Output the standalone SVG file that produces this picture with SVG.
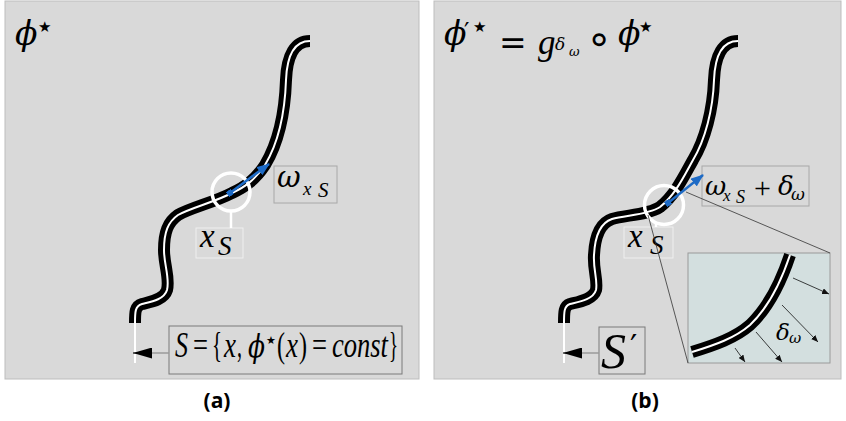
<svg xmlns="http://www.w3.org/2000/svg" width="846" height="421" viewBox="0 0 846 421">
<style>
.bg{fill:#d9d9d9;stroke:#bdbdbd;stroke-width:1}
.cb{fill:none;stroke:#000;stroke-width:12;stroke-linecap:butt;stroke-linejoin:round}
.cw{fill:none;stroke:#fff;stroke-width:2;stroke-linecap:butt}
.ring{fill:none;stroke:#fff;stroke-width:3.5}
.wl{stroke:#fff;stroke-width:2.5}
.box{fill:#d9d9d9;stroke:#a8a8a8;stroke-width:1}
.boxw{fill:#d9d9d9;stroke:#efefef;stroke-width:1}
.boxd{fill:#d9d9d9;stroke:#7a7a7a;stroke-width:1}
.blue{stroke:#1e6bc6;stroke-width:2.5;fill:none}
.gl{stroke:#9a9a9a;stroke-width:1.5}
.thin{stroke:#333;stroke-width:0.8}
.ia{stroke:#111;stroke-width:0.8}
.i{font-family:"Liberation Serif",serif;font-style:italic;fill:#000}
.u{font-family:"Liberation Serif",serif;font-style:normal;fill:#000}
.g{font-family:"DejaVu Serif",serif;font-style:italic;fill:#000}
.s{font-family:"DejaVu Sans",sans-serif;font-style:normal;fill:#000}
.p{font-family:"DejaVu Serif",serif;font-style:normal;fill:#000}
.cap{font-family:"Open Sans",sans-serif;font-weight:bold;font-size:21px;fill:#000}
</style>
<defs>
<marker id="bh" markerUnits="userSpaceOnUse" markerWidth="13" markerHeight="10" refX="12" refY="5" orient="auto"><path d="M0,0 L13,5 L0,10 z" fill="#1e6bc6"/></marker>
<marker id="bs" markerUnits="userSpaceOnUse" markerWidth="6" markerHeight="6" refX="3" refY="3" orient="auto"><rect x="0" y="0" width="6" height="6" fill="#1e6bc6"/></marker>
<marker id="sh" markerUnits="userSpaceOnUse" markerWidth="7" markerHeight="6" refX="7" refY="3" orient="auto"><path d="M0,0 L7,3 L0,6 z" fill="#111"/></marker>
<marker id="kh" markerUnits="userSpaceOnUse" markerWidth="19" markerHeight="11" refX="19" refY="5.5" orient="auto"><path d="M0,0 L19,5.5 L0,11 z" fill="#000"/></marker>
</defs>

<g id="panel-a">
<rect class="bg" x="5" y="1" width="414" height="378"/>
<text class="g" x="15" y="45" font-size="33">ϕ</text>
<text class="s" x="38" y="32" font-size="15">★</text>
</g>

<g id="panel-b">
<rect class="bg" x="434" y="1" width="407" height="378"/>
<text class="g" x="444" y="45" font-size="33">ϕ</text>
<text class="p" x="464" y="40" font-size="24">′</text>
<text class="s" x="473" y="32" font-size="15">★</text>
<text class="s" x="499" y="54" font-size="33">=</text>
<text class="i" x="538" y="54" font-size="35">g</text>
<text class="g" x="555" y="50" font-size="17">δ</text>
<text class="g" x="569" y="56" font-size="13">ω</text>
<text class="s" x="586" y="53" font-size="42">∘</text>
<text class="g" x="618" y="45" font-size="33">ϕ</text>
<text class="s" x="639" y="32" font-size="15">★</text>
</g>

<g id="curve-a">
<path class="cb" d="M310 41 C295 41 287 55 286 80 C285 110 280 140 265 165 C255 180 245 187 232 193 C215 202 190 208 178 215 C168 222 164 232 164 250 C164 265 170 278 167 290 C164 300 150 302 142 304 C135 306 135 312 135 323"/>
<path class="cw" d="M310 41 C295 41 287 55 286 80 C285 110 280 140 265 165 C255 180 245 187 232 193 C215 202 190 208 178 215 C168 222 164 232 164 250 C164 265 170 278 167 290 C164 300 150 302 142 304 C135 306 135 312 135 323 L135 363"/>
</g>

<g id="curve-b">
<path class="cb" d="M738 41 C723 41 715 55 714 80 C713 110 705 140 693 160 C683 178 675 195 660 207 C648 215 625 215 612 219 C600 223 595 235 594 255 C593 270 598 280 596 290 C593 300 578 302 570 304 C564 306 564 312 564 323"/>
<path class="cw" d="M738 41 C723 41 715 55 714 80 C713 110 705 140 693 160 C683 178 675 195 660 207 C648 215 625 215 612 219 C600 223 595 235 594 255 C593 270 598 280 596 290 C593 300 578 302 570 304 C564 306 564 312 564 323 L564 363"/>
</g>

<g id="point-a">
<circle class="ring" cx="231" cy="192" r="19"/>
</g>
<g id="point-b">
<circle class="ring" cx="664" cy="205" r="19.5"/>
</g>

<g id="inset">
<rect x="688" y="253" width="142" height="110" fill="#d3dfdf" stroke="#9a9a9a" stroke-width="1"/>
<path class="cb" d="M692 352 C715 345 735 338 750 325 C768 308 780 285 790 255"/>
<path class="cw" d="M692 352 C715 345 735 338 750 325 C768 308 780 285 790 255"/>
<text class="g" x="776" y="340" font-size="23">δ</text>
<text class="g" x="789" y="343" font-size="15">ω</text>
</g>

<g id="label-omega-a">
<rect class="box" x="274" y="166" width="63" height="37"/>
<text class="g" x="277" y="187" font-size="29">ω</text>
<text class="i" x="303" y="195" font-size="19">x</text>
<text class="i" x="318" y="197" font-size="21">S</text>
</g>

<g id="label-xs-a">
<rect class="boxw" x="196" y="228" width="47" height="30"/>
<text class="i" x="200" y="247" font-size="33">x</text>
<text class="i" x="218" y="255" font-size="27">S</text>
</g>

<g id="label-S-a">
<rect class="boxd" x="169" y="326" width="233" height="48"/>
<text class="i" x="175" y="357" font-size="35" textLength="13" lengthAdjust="spacingAndGlyphs">S</text>
<text class="u" x="193" y="357" font-size="35" textLength="15" lengthAdjust="spacingAndGlyphs">=</text>
<text class="u" x="212" y="357" font-size="35" textLength="10" lengthAdjust="spacingAndGlyphs">{</text>
<text class="i" x="224" y="357" font-size="35" textLength="12" lengthAdjust="spacingAndGlyphs">x</text>
<text class="u" x="237" y="357" font-size="35" textLength="5" lengthAdjust="spacingAndGlyphs">,</text>
<text class="g" x="248" y="357" font-size="32" textLength="17" lengthAdjust="spacingAndGlyphs">ϕ</text>
<text class="s" x="266" y="344" font-size="11">★</text>
<text class="u" x="277" y="357" font-size="35" textLength="8" lengthAdjust="spacingAndGlyphs">(</text>
<text class="i" x="286" y="357" font-size="35" textLength="12" lengthAdjust="spacingAndGlyphs">x</text>
<text class="u" x="299" y="357" font-size="35" textLength="8" lengthAdjust="spacingAndGlyphs">)</text>
<text class="u" x="312" y="357" font-size="35" textLength="15" lengthAdjust="spacingAndGlyphs">=</text>
<text class="i" x="332" y="357" font-size="35" textLength="56" lengthAdjust="spacingAndGlyphs">const</text>
<text class="u" x="389" y="357" font-size="35" textLength="9" lengthAdjust="spacingAndGlyphs">}</text>
</g>

<g id="label-omega-b">
<rect class="box" x="702" y="166" width="107" height="40"/>
<text class="g" x="705" y="195" font-size="26">ω</text>
<text class="i" x="723" y="201" font-size="17">x</text>
<text class="i" x="736" y="203" font-size="18">S</text>
<text class="u" x="754" y="198" font-size="30">+</text>
<text class="g" x="778" y="195" font-size="26">δ</text>
<text class="g" x="791" y="200" font-size="17">ω</text>
</g>

<g id="label-xs-b">
<rect class="boxw" x="624" y="227" width="49" height="31"/>
<text class="i" x="628" y="247" font-size="33">x</text>
<text class="i" x="650" y="254" font-size="27">S</text>
</g>

<g id="label-S-b">
<rect class="boxd" x="599" y="327" width="46" height="47"/>
<text class="i" x="601" y="368" font-size="50">S</text>
<text class="p" x="630" y="357" font-size="32">′</text>
</g>

<g id="connectors">
<line class="wl" x1="231" y1="211" x2="231" y2="228"/>
<line class="wl" x1="656" y1="223" x2="656" y2="227"/>
<line class="blue" x1="230" y1="193" x2="269" y2="164" marker-start="url(#bs)" marker-end="url(#bh)"/>
<line class="blue" x1="668" y1="203" x2="703" y2="175" marker-start="url(#bs)" marker-end="url(#bh)"/>
<line class="gl" x1="169" y1="353" x2="150" y2="353"/>
<line x1="152" y1="353" x2="133" y2="353" stroke="#000" stroke-width="1" marker-end="url(#kh)"/>
<line class="gl" x1="599" y1="353" x2="580" y2="353"/>
<line x1="582" y1="353" x2="563" y2="353" stroke="#000" stroke-width="1" marker-end="url(#kh)"/>
<line class="thin" x1="686" y1="192" x2="830" y2="253"/>
<line class="thin" x1="648" y1="215" x2="688" y2="363"/>
<line class="ia" x1="793" y1="278" x2="829" y2="294" marker-end="url(#sh)"/>
<line class="ia" x1="782" y1="305" x2="818" y2="342" marker-end="url(#sh)"/>
<line class="ia" x1="756" y1="332" x2="782" y2="362" marker-end="url(#sh)"/>
<line class="ia" x1="735" y1="348" x2="745" y2="362" marker-end="url(#sh)"/>
</g>

<g id="captions">
<text class="cap" x="217" y="408" text-anchor="middle">(a)</text>
<text class="cap" x="645" y="408" text-anchor="middle">(b)</text>
</g>
</svg>
